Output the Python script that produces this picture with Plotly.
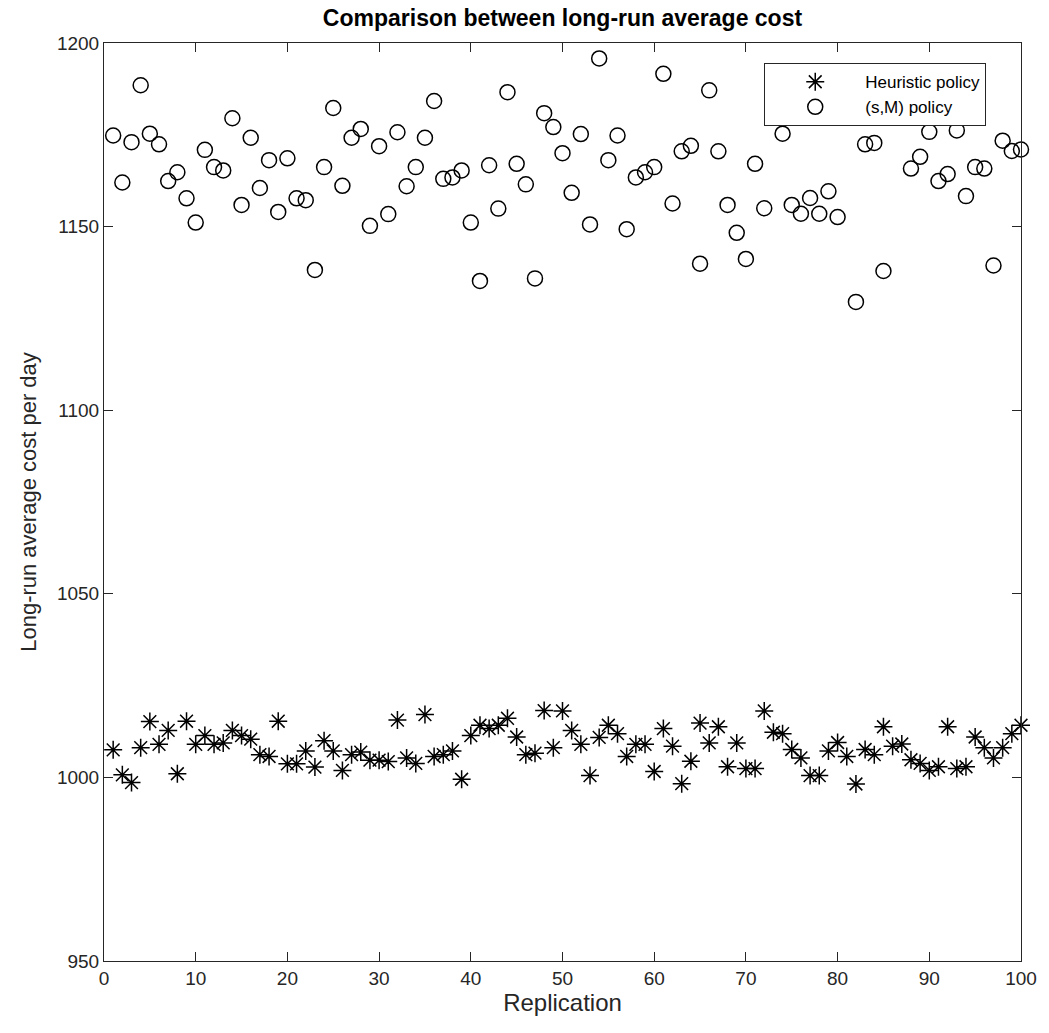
import plotly.graph_objects as go

replication = list(range(1, 101))

heuristic_cost = [
    1007.5, 1000.7, 998.6, 1008.1, 1015.2, 1009.0, 1012.8, 1001.0, 1015.3, 1009.0,
    1011.4, 1009.0, 1009.4, 1012.8, 1011.4, 1010.4, 1006.2, 1005.7, 1015.3, 1003.7,
    1003.7, 1007.2, 1002.8, 1010.0, 1007.2, 1001.9, 1006.2, 1006.9, 1004.7, 1004.7,
    1004.3, 1015.6, 1005.3, 1003.8, 1017.1, 1005.7, 1006.2, 1007.2, 999.5, 1011.4,
    1014.2, 1013.3, 1014.2, 1016.1, 1011.0, 1006.2, 1006.6, 1018.2, 1008.1, 1018.1,
    1012.8, 1009.0, 1000.5, 1010.9, 1014.2, 1011.9, 1005.7, 1009.0, 1009.0, 1001.6,
    1013.3, 1008.5, 998.3, 1004.4, 1014.8, 1009.4, 1013.8, 1002.9, 1009.4, 1002.4,
    1002.4, 1018.1, 1012.3, 1011.9, 1007.6, 1005.3, 1000.5, 1000.5, 1007.2, 1009.5,
    1005.7, 998.2, 1007.6, 1006.2, 1013.8, 1008.5, 1009.1, 1004.8, 1003.8, 1001.9,
    1002.9, 1013.8, 1002.4, 1002.9, 1011.0, 1008.1, 1005.3, 1008.1, 1011.9, 1014.2,
]

sm_cost = [
    1174.8, 1162.0, 1173.0, 1188.5, 1175.3, 1172.4, 1162.4, 1164.8, 1157.7, 1151.1,
    1170.9, 1166.2, 1165.3, 1179.5, 1155.9, 1174.2, 1160.5, 1168.1, 1154.0, 1168.6,
    1157.7, 1157.2, 1138.2, 1166.2, 1182.3, 1161.1, 1174.2, 1176.6, 1150.2, 1171.9,
    1153.4, 1175.7, 1161.0, 1166.2, 1174.2, 1184.2, 1163.0, 1163.4, 1165.3, 1151.1,
    1135.2, 1166.7, 1154.9, 1186.6, 1167.1, 1161.5, 1135.9, 1180.9, 1177.1, 1170.0,
    1159.2, 1175.2, 1150.6, 1195.8, 1168.1, 1174.8, 1149.3, 1163.4, 1164.8, 1166.2,
    1191.6, 1156.3, 1170.5, 1172.0, 1139.9, 1187.1, 1170.5, 1155.9, 1148.3, 1141.2,
    1167.1, 1155.0, 1186.0, 1175.3, 1155.9, 1153.5, 1157.8, 1153.5, 1159.6, 1152.6,
    1190.0, 1129.5, 1172.4, 1172.8, 1137.9, 1184.0, 1188.0, 1165.8, 1169.0, 1175.8,
    1162.4, 1164.3, 1176.2, 1158.3, 1166.2, 1165.8, 1139.4, 1173.4, 1170.6, 1171.0,
]

x_ticks = list(range(0, 101, 10))
y_ticks = [950, 1000, 1050, 1100, 1150, 1200]

FONT = "Liberation Sans, Arial, Helvetica, sans-serif"

fig = go.Figure()
fig.add_trace(go.Scatter(
    x=replication, y=heuristic_cost, mode="markers", name="Heuristic policy",
    cliponaxis=False,
    marker=dict(symbol="asterisk-open", size=15, color="black",
                line=dict(color="black", width=1.5)),
))
fig.add_trace(go.Scatter(
    x=replication, y=sm_cost, mode="markers", name="(s,M) policy",
    cliponaxis=False,
    marker=dict(symbol="circle-open", size=15, color="black",
                line=dict(color="black", width=1.5)),
))

axis_common = dict(
    showgrid=False, zeroline=False, showline=True, linecolor="#262626", linewidth=1,
    mirror="ticks", ticks="inside", ticklen=9, tickcolor="#262626", tickwidth=1,
    tickfont=dict(family=FONT, size=19, color="#262626"),
)

fig.update_layout(
    width=1049, height=1033,
    margin=dict(l=104, r=28, t=43, b=72),
    paper_bgcolor="white", plot_bgcolor="white",
    title=dict(text="<b>Comparison between long-run average cost</b>",
               x=(104 + 1021) / 2 / 1049, xanchor="center", y=1 - 18 / 1033, yanchor="middle",
               font=dict(family=FONT, size=23, color="black")),
    xaxis=dict(range=[0, 100], tickvals=x_ticks,
               title=dict(text="Replication", font=dict(family=FONT, size=24, color="#262626"), standoff=4),
               **axis_common),
    yaxis=dict(range=[950, 1200], tickvals=y_ticks,
               title=dict(text="Long-run average cost per day", font=dict(family=FONT, size=22, color="#262626"), standoff=14),
               **axis_common),
    legend=dict(x=0.72, y=0.978, xanchor="left", yanchor="top",
                bgcolor="white", bordercolor="#262626", borderwidth=1,
                font=dict(family=FONT, size=17, color="black"),
                itemwidth=90, tracegroupgap=0),
    showlegend=True,
)

fig.write_html("out.html")
